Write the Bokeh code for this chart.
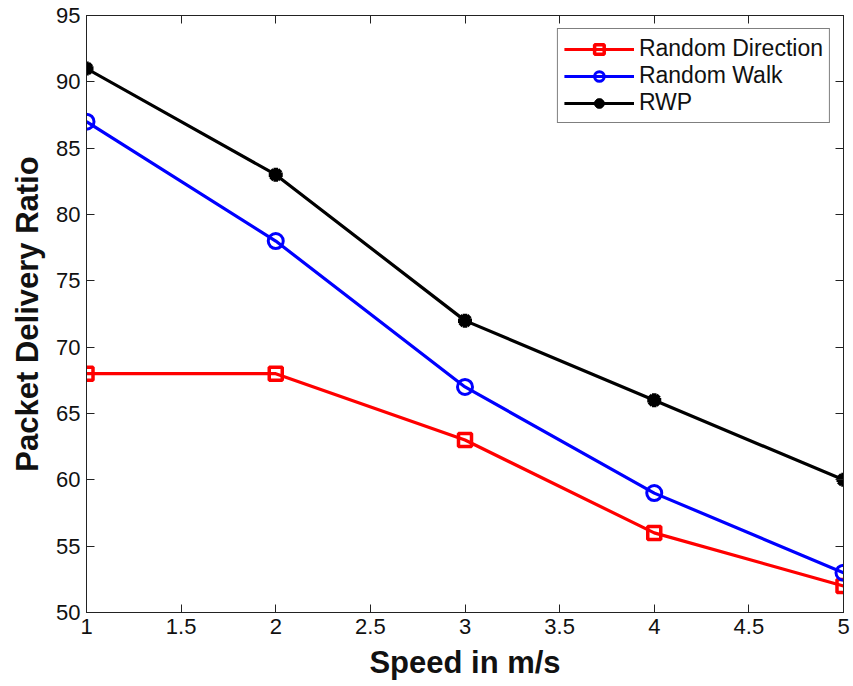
from bokeh.plotting import figure
from bokeh.models import LinearAxis, FixedTicker, CustomJSTickFormatter, Legend, LegendItem, Range1d
from bokeh.embed import file_html
from bokeh.resources import INLINE

speed = [1, 2, 3, 4, 5]
random_direction = [68, 68, 63, 56, 52]
random_walk = [87, 78, 67, 59, 53]
rwp = [91, 83, 72, 66, 60]

x_ticks = [1, 1.5, 2, 2.5, 3, 3.5, 4, 4.5, 5]
y_ticks = [50, 55, 60, 65, 70, 75, 80, 85, 90, 95]

FONT = "Liberation Sans"

p = figure(width=853, height=686, output_backend="svg", toolbar_location=None,
           x_range=Range1d(1, 5), y_range=Range1d(50, 95),
           min_border_left=86, min_border_right=10, min_border_top=15, min_border_bottom=74,
           background_fill_color="white", border_fill_color="white")
p.grid.visible = False
p.outline_line_color = "#333333"
p.outline_line_width = 1

fmt = CustomJSTickFormatter(code="return tick.toString();")

def style_axis(ax, ticks, show_labels=True):
    ax.ticker = FixedTicker(ticks=ticks)
    ax.formatter = fmt
    ax.major_tick_in = 8
    ax.major_tick_out = 0
    ax.minor_tick_line_color = None
    ax.axis_line_color = "#222222"
    ax.major_tick_line_color = "#222222"
    ax.major_label_text_font = FONT
    ax.major_label_text_font_size = "22px"
    ax.major_label_text_color = "#111111"
    ax.major_label_standoff = 6
    if not show_labels:
        ax.major_label_text_alpha = 0

style_axis(p.xaxis[0], x_ticks)
style_axis(p.yaxis[0], y_ticks)

p.xaxis[0].axis_label = "Speed in m/s"
p.yaxis[0].axis_label = "Packet Delivery Ratio"
for ax in (p.xaxis[0], p.yaxis[0]):
    ax.axis_label_text_font = FONT
    ax.axis_label_text_font_size = "31px"
    ax.axis_label_text_font_style = "bold"
    ax.axis_label_text_color = "#111111"
    ax.axis_label_standoff = 8

# box ticks along the top and right edges, without labels
top_ax = LinearAxis()
right_ax = LinearAxis()
style_axis(top_ax, x_ticks, show_labels=False)
style_axis(right_ax, y_ticks, show_labels=False)
top_ax.major_label_text_font_size = "0px"
right_ax.major_label_text_font_size = "0px"
top_ax.major_label_standoff = 0
right_ax.major_label_standoff = 0
p.add_layout(top_ax, "above")
p.add_layout(right_ax, "right")

lw = 3.2
r1 = p.line(speed, random_direction, line_color="#ff0000", line_width=lw)
m1 = p.scatter(speed, random_direction, marker="square", size=13, line_color="#ff0000",
               fill_color="white", fill_alpha=0, line_width=3.5)
r2 = p.line(speed, random_walk, line_color="#0000ff", line_width=lw)
m2 = p.scatter(speed, random_walk, marker="circle", size=15, line_color="#0000ff",
               fill_color="white", fill_alpha=0, line_width=3)
r3 = p.line(speed, rwp, line_color="black", line_width=lw)
m3 = p.scatter(speed, rwp, marker="asterisk", size=14, line_color="black", line_width=4.5)
m3b = p.scatter(speed, rwp, marker="circle", size=10, line_color="black", fill_color="black")

legend = Legend(items=[
    LegendItem(label="Random Direction", renderers=[r1, m1]),
    LegendItem(label="Random Walk", renderers=[r2, m2]),
    LegendItem(label="RWP", renderers=[r3, m3, m3b]),
], location="top_right")
legend.label_text_font = FONT
legend.label_text_font_size = "23px"
legend.label_text_color = "#111111"
legend.glyph_width = 70
legend.glyph_height = 24
legend.label_height = 24
legend.spacing = 0
legend.padding = 6
legend.margin = 13
legend.border_line_color = "black"
legend.border_line_width = 1
legend.background_fill_alpha = 1
p.add_layout(legend)

open("out.html", "w").write(file_html(p, INLINE))
